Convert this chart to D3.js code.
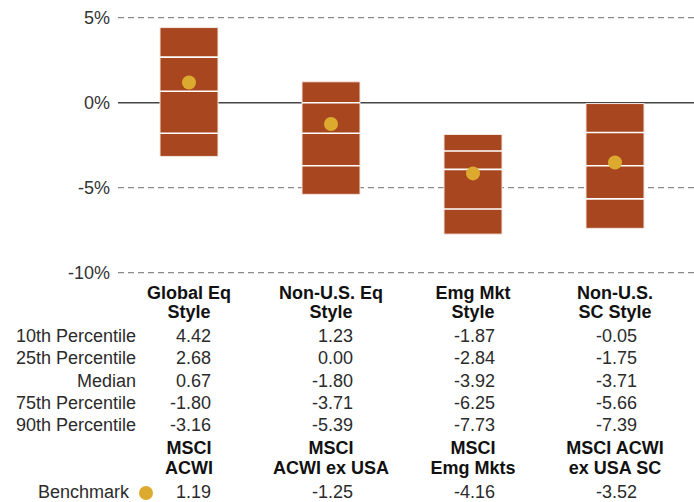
<!DOCTYPE html>
<html>
<head>
<meta charset="utf-8">
<script src="https://cdn.jsdelivr.net/npm/d3@7"></script>
<style>
    body { margin: 0; background: #fff; }
    svg { display: block; }
    .tick text { font-family: 'Liberation Sans', Arial, sans-serif; font-size: 18px; fill: #333; }
    .tbl { font-family: 'Liberation Sans', Arial, sans-serif; font-size: 18px; fill: #2b2b2b; }
    .hdr { font-weight: bold; fill: #111; }
</style>
</head>
<body>
<svg width="694" height="502"></svg>
<script>
// **** Data ****
var categories = ['Global Eq Style', 'Non-U.S. Eq Style', 'Emg Mkt Style', 'Non-U.S. SC Style'];
var categoryLines = [['Global Eq', 'Style'], ['Non-U.S. Eq', 'Style'], ['Emg Mkt', 'Style'], ['Non-U.S.', 'SC Style']];
var rowLabels = ['10th Percentile', '25th Percentile', 'Median', '75th Percentile', '90th Percentile'];
var p10 = [4.42, 1.23, -1.87, -0.05];
var p25 = [2.68, 0.00, -2.84, -1.75];
var median = [0.67, -1.80, -3.92, -3.71];
var p75 = [-1.80, -3.71, -6.25, -5.66];
var p90 = [-3.16, -5.39, -7.73, -7.39];
var benchmarkLines = [['MSCI', 'ACWI'], ['MSCI', 'ACWI ex USA'], ['MSCI', 'Emg Mkts'], ['MSCI ACWI', 'ex USA SC']];
var benchmark = [1.19, -1.25, -4.16, -3.52];
var yTicks = [5, 0, -5, -10];

var barColor = '#a8471f';
var dotColor = '#dcaa2e';

var svg = d3.select('svg');

// scales
var yScale = d3.scaleLinear().domain([-10, 5]).range([272.7, 17.7]);
var xScale = d3.scaleBand().domain(categories).range([118, 686]);
var barWidth = 58;

function colCenter(c) {
    return xScale(c) + xScale.bandwidth() / 2;
}

// gridlines (dashed), zero line solid
svg.append('g').selectAll('line')
    .data(yTicks)
    .enter().append('line')
    .attr('x1', 118).attr('x2', 694)
    .attr('y1', d => yScale(d)).attr('y2', d => yScale(d))
    .attr('stroke', d => d === 0 ? '#444' : '#8a8a8a')
    .attr('stroke-width', d => d === 0 ? 1.5 : 1.2)
    .attr('stroke-dasharray', d => d === 0 ? null : '6,4');

// y axis labels
var yAxis = svg.append('g')
    .attr('transform', 'translate(110, 0)')
    .call(d3.axisLeft(yScale).tickValues(yTicks).tickSize(0).tickPadding(0)
        .tickFormat(d => d + '%'));
yAxis.select('.domain').remove();

// boxes
var boxG = svg.append('g').selectAll('g')
    .data(categories)
    .enter().append('g')
    .attr('transform', d => `translate(${colCenter(d) - barWidth / 2}, 0)`);

boxG.append('rect')
    .attr('y', (d, i) => yScale(p10[i]))
    .attr('height', (d, i) => yScale(p90[i]) - yScale(p10[i]))
    .attr('width', barWidth)
    .attr('fill', barColor)
    .attr('stroke', '#f3e6e0')
    .attr('stroke-width', 1);

[p25, median, p75].forEach(function(arr) {
    boxG.append('line')
        .attr('x1', 0).attr('x2', barWidth)
        .attr('y1', (d, i) => yScale(arr[i])).attr('y2', (d, i) => yScale(arr[i]))
        .attr('stroke', '#fff')
        .attr('stroke-width', 1.6);
});

boxG.append('circle')
    .attr('cx', barWidth / 2)
    .attr('cy', (d, i) => yScale(benchmark[i]))
    .attr('r', 7)
    .attr('fill', dotColor);

// **** Table below chart ****
var table = svg.append('g').attr('class', 'tbl');

function centerText(lines, ys) {
    categories.forEach(function(c, i) {
        lines[i].forEach(function(t, j) {
            table.append('text')
                .attr('class', 'hdr')
                .attr('x', colCenter(c))
                .attr('y', ys[j])
                .attr('text-anchor', 'middle')
                .attr('dominant-baseline', 'central')
                .text(t);
        });
    });
}

centerText(categoryLines, [293, 312]);
centerText(benchmarkLines, [448, 468]);

var rowData = [p10, p25, median, p75, p90];
var rowY = [336, 358.3, 380.6, 402.9, 425.2];

rowLabels.forEach(function(label, r) {
    table.append('text')
        .attr('x', 136)
        .attr('y', rowY[r])
        .attr('text-anchor', 'end')
        .attr('dominant-baseline', 'central')
        .text(label);

    categories.forEach(function(c, i) {
        table.append('text')
            .attr('x', colCenter(c) + 22)
            .attr('y', rowY[r])
            .attr('text-anchor', 'end')
            .attr('dominant-baseline', 'central')
            .text(rowData[r][i].toFixed(2));
    });
});

// Benchmark row
table.append('text')
    .attr('x', 129)
    .attr('y', 492)
    .attr('text-anchor', 'end')
    .attr('dominant-baseline', 'central')
    .text('Benchmark');

svg.append('circle')
    .attr('cx', 146).attr('cy', 493)
    .attr('r', 7)
    .attr('fill', dotColor);

categories.forEach(function(c, i) {
    table.append('text')
        .attr('x', colCenter(c) + 22)
        .attr('y', 492)
        .attr('text-anchor', 'end')
        .attr('dominant-baseline', 'central')
        .text(benchmark[i].toFixed(2));
});
</script>
</body>
</html>
